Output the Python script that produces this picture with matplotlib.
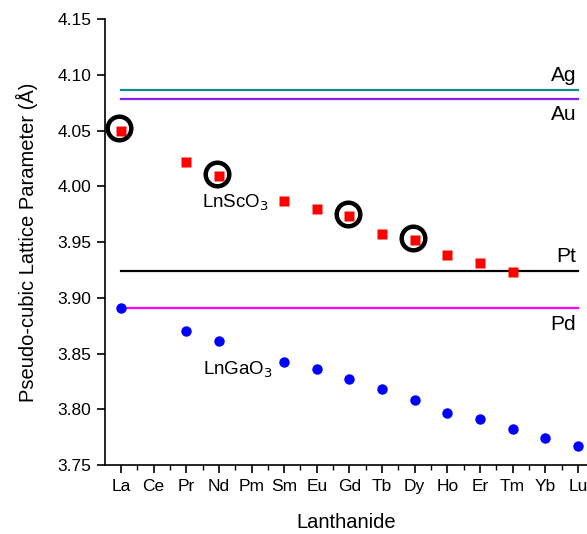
import matplotlib.pyplot as plt
import numpy as np
from matplotlib.ticker import MultipleLocator

plt.rcParams['font.family'] = ['Liberation Sans', 'DejaVu Sans']

elements = ['La', 'Ce', 'Pr', 'Nd', 'Pm', 'Sm', 'Eu', 'Gd', 'Tb', 'Dy', 'Ho', 'Er', 'Tm', 'Yb', 'Lu']

# LnScO3 (red squares)
sc_names = ['La', 'Pr', 'Nd', 'Sm', 'Eu', 'Gd', 'Tb', 'Dy', 'Ho', 'Er', 'Tm']
sc_vals = [4.050, 4.022, 4.009, 3.987, 3.980, 3.973, 3.957, 3.952, 3.938, 3.931, 3.923]

# highlighted substrates (black open circles)
hl_names = ['La', 'Nd', 'Gd', 'Dy']
hl_vals = [4.052, 4.011, 3.975, 3.954]

# LnGaO3 (blue circles)
ga_names = ['La', 'Pr', 'Nd', 'Sm', 'Eu', 'Gd', 'Tb', 'Dy', 'Ho', 'Er', 'Tm', 'Yb', 'Lu']
ga_vals = [3.891, 3.870, 3.861, 3.842, 3.836, 3.827, 3.818, 3.808, 3.797, 3.791, 3.782, 3.774, 3.767]

# metal lattice parameters
metals = ['Ag', 'Au', 'Pt', 'Pd']
metal_vals = [4.086, 4.078, 3.924, 3.891]
metal_colors = ['#138a8a', '#8a1ff0', 'black', '#ff00ff']
metal_label_y = [4.099, 4.064, 3.937, 3.876]

idx = {e: i for i, e in enumerate(elements)}

fig = plt.figure(figsize=(5.87, 5.34), dpi=100)
ax = fig.add_axes([0.1789, 0.1292, 0.8211, 0.8352])

for v, c in zip(metal_vals, metal_colors):
    ax.plot([0, len(elements) - 1], [v, v], color=c, lw=1.6, zorder=1)

ax.plot([idx[n] for n in sc_names], sc_vals, 's', color='red', ms=6.5, mec='none', zorder=3)
ax.plot([idx[n] - 0.05 for n in hl_names], hl_vals, 'o', mfc='none', mec='black',
        ms=17, mew=3.2, zorder=4)
ax.plot([idx[n] for n in ga_names], ga_vals, 'o', color='blue', ms=7.5, mec='none', zorder=3)

# metal labels
for m, ly in zip(metals, metal_label_y):
    ax.text(13.95, ly, m, ha='right', va='center', fontsize=15)

ax.text(2.48, 3.985, r'LnScO$_3$', ha='left', va='center', fontsize=13.5)
ax.text(2.51, 3.835, r'LnGaO$_3$', ha='left', va='center', fontsize=13.5)

ax.set_xlim(-0.49, 14.28)
ax.set_ylim(3.75, 4.15)
ax.set_xticks(range(len(elements)))
ax.set_xticklabels(elements)
ax.xaxis.set_minor_locator(MultipleLocator(0.5))
ax.yaxis.set_major_locator(MultipleLocator(0.05))
ax.yaxis.set_major_formatter(plt.FormatStrFormatter('%.2f'))

ax.spines['top'].set_visible(False)
ax.spines['right'].set_visible(False)
for s in ['left', 'bottom']:
    ax.spines[s].set_linewidth(1.2)
ax.tick_params(axis='both', which='major', direction='out', length=6, width=1.2,
               labelsize=12.5, pad=4)
ax.tick_params(axis='x', which='minor', direction='out', length=3.5, width=1.0)

ax.set_xlabel('Lanthanide', fontsize=14.5, labelpad=14)
ax.set_ylabel('Pseudo-cubic Lattice Parameter (Å)', fontsize=14.5, labelpad=14)

fig.savefig('out.png', dpi=100)
